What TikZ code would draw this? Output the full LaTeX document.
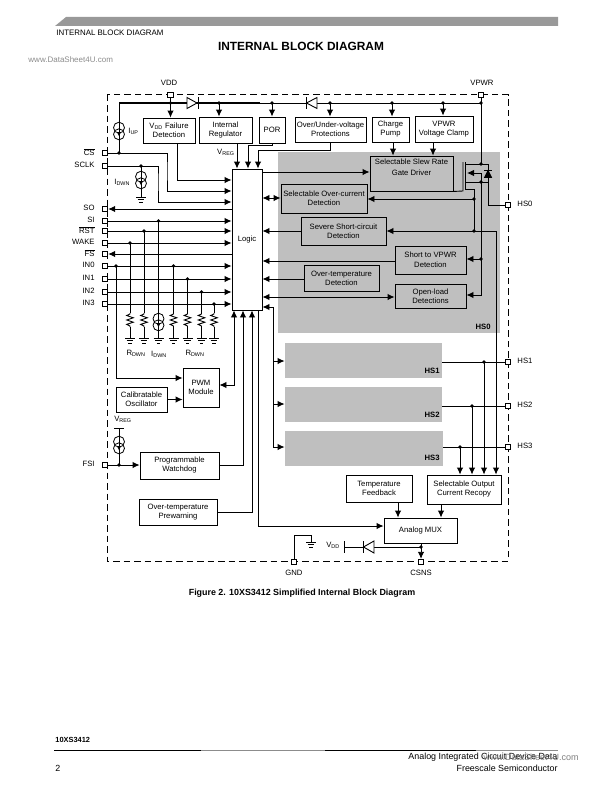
\documentclass[tikz,border=0pt]{standalone}
\usepackage{fontspec}
\setmainfont{Liberation Sans}
\usetikzlibrary{arrows.meta}
\tikzset{
	txt/.style={inner sep=0pt, font=\fontsize{7.7}{9}\selectfont, align=center},
	block/.style={txt, draw, line width=0.9pt},
	shade/.style={fill=black!25, inner sep=0pt},
	hslabel/.style={txt, anchor=south east, font=\fontsize{7.7}{9}\selectfont\bfseries},
	pad/.style={draw, fill=white, line width=0.9pt, inner sep=0pt, minimum size=5.5pt},
	csrc/.pic={
		\draw[line width=0.8pt] (0,-3.3) circle (5.5) (0,3.3) circle (5.5);
		\fill (-2,1.2) -- (2,1.2) -- (0,5) -- cycle;
	},
	wavy/.pic={
		\draw[line width=0.9pt] (0,0) -- (0,1) -- (-3.3,2.5) -- (3.3,4.8) -- (-3.3,7) -- (3.3,9.2) -- (-3.3,11.4) -- (0,13) -- (0,14);
	},
	gndsym/.pic={
		\draw[line width=0.9pt] (-5,0) -- (5,0) (-3.3,2.8) -- (3.3,2.8) (-1.7,5.6) -- (1.7,5.6);
	},
}
\begin{document}
\begin{tikzpicture}[x=1pt, y=-1pt, line width=0.9pt, >={Latex[length=7pt,width=6.5pt]}]
	\useasboundingbox[fill=white] (0,0) rectangle (612,792);
	%%Seitenkopf
	\fill[black!40] (55,26) -- (66,17) -- (558,17) -- (558,26) -- cycle;
	\node (headtxt) [txt, anchor=west, font=\fontsize{7.9}{9}\selectfont] at (56,33) {INTERNAL BLOCK DIAGRAM};
	\node (title) [txt, font=\fontsize{11.9}{13}\selectfont\bfseries] at (301,46) {INTERNAL BLOCK DIAGRAM};
	\node (wmtop) [txt, anchor=west, text=black!45, font=\fontsize{8}{9}\selectfont] at (28,60) {www.DataSheet4U.com};
	%%Grauflaechen
	\node (hszero) [shade, minimum width=222pt, minimum height=181pt] at (389,242.5) {};
	\node (hsone) [shade, minimum width=157pt, minimum height=35pt] at (363.5,360.5) {};
	\node (hstwo) [shade, minimum width=157pt, minimum height=35pt] at (363.5,404.5) {};
	\node (hsthree) [shade, minimum width=158pt, minimum height=35pt] at (364,448.5) {};
	\node (lblhszero) [hslabel] at (491,330) {HS0};
	\node (lblhsone) [hslabel] at (440,374) {HS1};
	\node (lblhstwo) [hslabel] at (440,418) {HS2};
	\node (lblhsthree) [hslabel] at (440,461) {HS3};
	%%Rahmen
	\draw[dash pattern=on 6.5pt off 4pt] (107,94.5) rectangle (508,561);
	%%Bloecke
	\node (vfail) [block, minimum width=52pt, minimum height=25pt] at (169,130.5) {V\textsubscript{DD} Failure\\Detection};
	\node (intreg) [block, minimum width=53pt, minimum height=26pt] at (225.5,130) {Internal\\Regulator};
	\node (por) [block, minimum width=26pt, minimum height=26pt] at (272,130) {POR};
	\node (ovuv) [block, minimum width=71pt, minimum height=25pt] at (330.5,129.5) {Over/Under-voltage\\Protections};
	\node (chgpump) [block, minimum width=37pt, minimum height=25pt] at (390.5,129.5) {Charge\\Pump};
	\node (vclamp) [block, minimum width=58pt, minimum height=26pt] at (444,129) {VPWR\\Voltage Clamp};
	\node (slew) [block, minimum width=83pt, minimum height=35pt] at (411.5,173.5) {Selectable Slew Rate\\[2pt]Gate Driver\\[3pt]\mbox{}};
	\node (overcur) [block, minimum width=86pt, minimum height=29pt] at (324,198.5) {Selectable Over-current\\Detection};
	\node (severe) [block, minimum width=85pt, minimum height=28pt] at (343.5,231) {Severe Short-circuit\\Detection};
	\node (short) [block, minimum width=71pt, minimum height=28pt] at (430.5,260) {Short to VPWR\\[1pt]Detection};
	\node (ottemp) [block, minimum width=75pt, minimum height=26pt] at (341.5,278) {Over-temperature\\Detection};
	\node (openload) [block, minimum width=71pt, minimum height=24pt] at (430.5,296) {Open-load\\Detections};
	\node (logic) [block, minimum width=30pt, minimum height=141pt] at (247,239.5) {Logic};
	\node (pwm) [block, minimum width=36pt, minimum height=39pt] at (201,387.5) {PWM\\Module};
	\node (calosc) [block, minimum width=51pt, minimum height=25pt] at (141.5,399.5) {Calibratable\\Oscillator};
	\node (watchdog) [block, minimum width=79pt, minimum height=27pt] at (179.5,465.5) {Programmable\\Watchdog};
	\node (prewarn) [block, minimum width=78pt, minimum height=26pt] at (178,512) {Over-temperature\\Prewarning};
	\node (tempfb) [block, minimum width=66pt, minimum height=27pt] at (379,488.5) {Temperature\\Feedback};
	\node (recopy) [block, minimum width=74pt, minimum height=29pt] at (464,489.5) {Selectable Output\\Current Recopy};
	\node (mux) [block, minimum width=73pt, minimum height=25pt] at (420.5,530.5) {Analog MUX};
	%%Anschluesse
	\foreach \n/\y/\t in {cs/153/{$\overline{\mbox{CS}}$},sclk/166/SCLK,so/209/SO,si/221/SI,rst/231/{$\overline{\mbox{RST}}$},wake/243/WAKE,fs/254/{$\overline{\mbox{FS}}$},inzero/266/IN0,inone/279/IN1,intwo/292/IN2,inthree/304/IN3,fsi/465/FSI} {
		\node (pin\n) [pad] at (105,\y) {};
		\node (lbl\n) [txt, anchor=east] at (95,\y-0.7) {\t};
	}
	\foreach \n/\y/\t in {hszero/205/HS0,hsone/362/HS1,hstwo/406/HS2,hsthree/447/HS3} {
		\node (pin\n) [pad] at (508,\y) {};
		\node (lblp\n) [txt, anchor=west] at (517,\y-0.7) {\t};
	}
	\node (pinvdd) [pad] at (170.5,95) {};
	\node (pinvpwr) [pad] at (481,95) {};
	\node (pingnd) [pad] at (294,562) {};
	\node (pincsns) [pad] at (421,562) {};
	\node (lblvdd) [txt] at (169,83) {VDD};
	\node (lblvpwr) [txt] at (482,83) {VPWR};
	\node (lblgnd) [txt] at (294,573) {GND};
	\node (lblcsns) [txt] at (421,573) {CSNS};
	%%Versorgung oben
	\draw[line width=1.8pt] (119,103) -- (260,103);
	\draw (260,103) -- (481,103);
	\draw (pinvdd) -- (170.5,103);
	\foreach \b/\x in {vfail/170.5,intreg/219,por/272,ovuv/330,chgpump/392,vclamp/443}
		\draw[->] (\x,103) -- (\b.north -| \x,0);
	\draw[fill=white] (187,97.5) -- (197,103) -- (187,108.5) -- cycle;
	\draw (198,97) -- (198,109);
	\draw[fill=white] (317,97.5) -- (306.5,103) -- (317,108.5) -- cycle;
	\draw (306,97) -- (306,109);
	%%Stromquellen oben links
	\draw (119,103) -- (pincs -| 119,0);
	\pic at (119,131) {csrc};
	\node (lbliup) [txt, anchor=west] at (128,131) {I\textsubscript{UP}};
	\draw (pinsclk -| 141,0) -- (141,197);
	\pic at (141,180) {csrc};
	\pic at (141,197) {gndsym};
	\node (lblidwn) [txt, anchor=west] at (114,182) {I\textsubscript{DWN}};
	%%Eingaenge der Logic
	\draw[->] (vfail.south -| 177,0) |- (logic.west |- 0,180);
	\draw[->] (pincs) -| (167,170) |- (logic.west |- 0,191);
	\draw[->] (pinsclk) -| (158,180) |- (logic.west |- 0,202);
	\foreach \n in {si,rst,wake,inzero,inone,intwo,inthree}
		\draw[->] (pin\n) -- (pin\n -| logic.west);
	\foreach \n in {so,fs}
		\draw[->] (pin\n -| logic.west) -- (pin\n);
	\draw[->] (intreg.south -| 237,0) -- (logic.north -| 237,0);
	\draw[->] (por.south) -- (272,145) -| (logic.north -| 248,0);
	\draw[->] (ovuv.south -| 330,0) -- (330,150) -| (logic.north -| 258,0);
	\node (lblvreg) [txt, anchor=east] at (235,152) {V\textsubscript{REG}};
	%%Widerstaende und Senken
	\foreach \n/\x in {wake/130,rst/144,inzero/173.5,inone/187.5,intwo/201.5,inthree/214} {
		\draw (pin\n -| \x,0) -- (\x,313);
		\pic at (\x,313) {wavy};
		\draw (\x,327) -- (\x,338);
		\pic at (\x,338) {gndsym};
	}
	\draw (pinsi -| 158.5,0) -- (158.5,338);
	\pic at (158.5,322) {csrc};
	\pic at (158.5,338) {gndsym};
	\node (lblrdownl) [txt] at (136,353) {R\textsubscript{DWN}};
	\node (lblidownb) [txt] at (159,354) {I\textsubscript{DWN}};
	\node (lblrdownr) [txt] at (195,353) {R\textsubscript{DWN}};
	%%PWM, Watchdog
	\draw[->] (pininzero -| 116,0) |- (pwm.west |- 0,378);
	\draw[->] (calosc.east) -- (pwm.west |- calosc.east);
	\draw[<->] (logic.south -| 234,0) |- (pwm.east |- 0,385);
	\draw[->] (watchdog.east) -| (logic.south -| 243,0);
	\draw[->] (prewarn.east) -| (logic.south -| 252,0);
	\draw[->] (logic.south -| 258,0) |- (mux.west |- 0,526);
	\draw[->] (pinfsi) -- (pinfsi -| watchdog.west);
	\draw (pinfsi -| 119,0) -- (119,428);
	\draw (114,428) -- (124,428);
	\pic at (119,445) {csrc};
	\node (lblvregb) [txt] at (123,419) {V\textsubscript{REG}};
	%%HS-Zweige
	\draw[->] (273,447) -- (273,307) -- (logic.east |- 0,307);
	\foreach \n/\y in {hsone/361,hstwo/404,hsthree/447}
		\draw[->] (273,\y) -- (\n.west |- 0,\y);
	%%Logic rechts
	\draw[->] (logic.east |- 0,172) -- (slew.west |- 0,172);
	\draw[<->] (logic.east |- 0,198) -- (overcur.west |- 0,198);
	\draw[->] (severe.west) -- (logic.east |- severe.west);
	\draw[->] (short.west |- 0,261) -- (logic.east |- 0,261);
	\draw[->] (ottemp.west |- 0,279) -- (logic.east |- 0,279);
	\draw[<->] (logic.east |- 0,297) -- (openload.west |- 0,297);
	\draw[->] (chgpump.south -| 393,0) -- (slew.north -| 393,0);
	\draw[->] (vclamp.south -| 433,0) -- (slew.north -| 433,0);
	%%Leistungsschalter
	\draw (pinvpwr) -- (481,164);
	\draw (slew.south east) -- (463,191) -- (463,162);
	\draw[line width=1pt] (465,162) -- (465,189);
	\draw (465,164) -- (488,164) -- (488,182) -- (465,182);
	\draw[->] (481,173) -- (467,173);
	\draw[fill] (484.5,177.5) -- (491.5,177.5) -- (488,170.5) -- cycle;
	\draw (484,170) -- (492,170);
	\draw (488,182) |- (pinhszero);
	\draw (465,189) -- (474,189) -- (474,231);
	\draw[->] (481,173) -- (481,295) -- (openload.east |- 0,295);
	\draw[->] (481,259) -- (short.east |- 0,259);
	\draw[->] (474,199) -- (overcur.east |- 0,199);
	\draw[->] (496,231) -- (severe.east |- 0,231);
	\draw[->] (496,231) -- (recopy.north -| 496,0);
	\foreach \n/\x in {hsone/484,hstwo/472,hsthree/460} {
		\draw (pin\n) -- (pin\n -| \n.east);
		\draw[->] (pin\n -| \x,0) -- (recopy.north -| \x,0);
	}
	%%Analog MUX
	\draw[->] (tempfb.south -| 398,0) -- (mux.north -| 398,0);
	\draw[->] (recopy.south -| 441,0) -- (mux.north -| 441,0);
	\draw[->] (mux.south -| pincsns) -- (pincsns);
	\draw (344,547) -- (pincsns |- 0,547);
	\draw (344,541) -- (344,553);
	\draw[fill=white] (374,541) -- (363.5,547) -- (374,553) -- cycle;
	\draw (363,541) -- (363,553);
	\node (lblvddb) [txt] at (333,545) {V\textsubscript{DD}};
	\draw (pingnd) |- (311,535) -- (311,542);
	\pic at (311,542) {gndsym};
	%%Knotenpunkte
	\foreach \x/\y in {170.5/103,219/103,272/103,330/103,392/103,443/103,481/103,119/153,141/166,116/266,130/243,144/231,158.5/221,173.5/266,187.5/279,201.5/292,214/304,119/465,481/164,481/182,474/199,474/231,481/259,484/362,472/406,460/447,421/547}
		\fill (\x,\y) circle (1.9);
	%%Bildunterschrift und Fuss
	\node (caption) [txt, font=\fontsize{8.9}{10}\selectfont\bfseries] at (302,593) {Figure 2. 10XS3412 Simplified Internal Block Diagram};
	\node (partno) [txt, anchor=west, font=\fontsize{7.4}{9}\selectfont\bfseries] at (55,740) {10XS3412};
	\draw[line width=1.2pt] (54,750.5) -- (201,750.5);
	\draw[line width=1.2pt, black!45] (201,750.5) -- (325,750.5);
	\draw[line width=1.2pt] (325,750.5) -- (476,750.5);
	\draw[line width=1.2pt, black!45] (476,750.5) -- (558,750.5);
	\node (pageno) [txt, anchor=west, font=\fontsize{8.9}{10}\selectfont] at (55,768) {2};
	\node (footone) [txt, anchor=west, font=\fontsize{8.9}{10}\selectfont] at (408,757.5) {Analog Integrated Circuit Device Data};
	\node (foottwo) [txt, anchor=east, font=\fontsize{8.9}{10}\selectfont] at (558,768) {Freescale Semiconductor};
	\node (wmbot) [txt, anchor=east, text=black!50, font=\fontsize{9}{10}\selectfont] at (579,757.5) {www.DataSheet4U.com};
\end{tikzpicture}
\end{document}
